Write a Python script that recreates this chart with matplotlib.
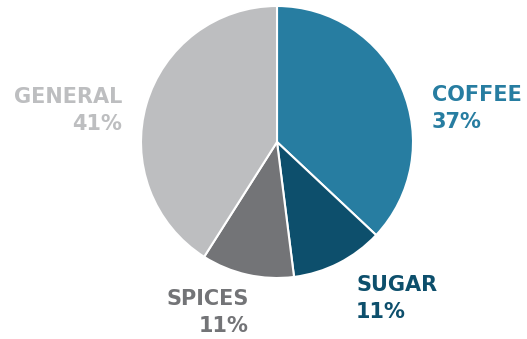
import matplotlib.pyplot as plt

labels = ['COFFEE', 'SUGAR', 'SPICES', 'GENERAL']
shares = [37, 11, 11, 41]
colors = ['#277da1', '#0d4f6c', '#737477', '#bdbec0']

fig = plt.figure(figsize=(5.27, 3.39), dpi=100)
ax = fig.add_axes([0, 0, 1, 1])

# work in pixel units, y measured from the top of the image
H = 339
ax.pie(shares, colors=colors, startangle=90, counterclock=False,
       center=(277, H - 142), radius=136, frame=True,
       wedgeprops=dict(edgecolor='white', linewidth=1.5))
ax.set_xlim(0, 527)
ax.set_ylim(0, H)
ax.axis('off')

# label anchors (x, y, ha)
spots = [(432, 95, 'left'), (356, 285, 'left'), (249, 299, 'right'), (122, 97, 'right')]
for (x, y, ha), name, val, c in zip(spots, labels, shares, colors):
    ax.text(x, H - y, name, ha=ha, va='center', color=c, fontsize=15,
            fontweight='bold', family='DejaVu Sans')
    ax.text(x, H - y - 27, f'{val}%', ha=ha, va='center', color=c, fontsize=15,
            fontweight='bold', family='DejaVu Sans')

fig.savefig('out.png', dpi=100)
